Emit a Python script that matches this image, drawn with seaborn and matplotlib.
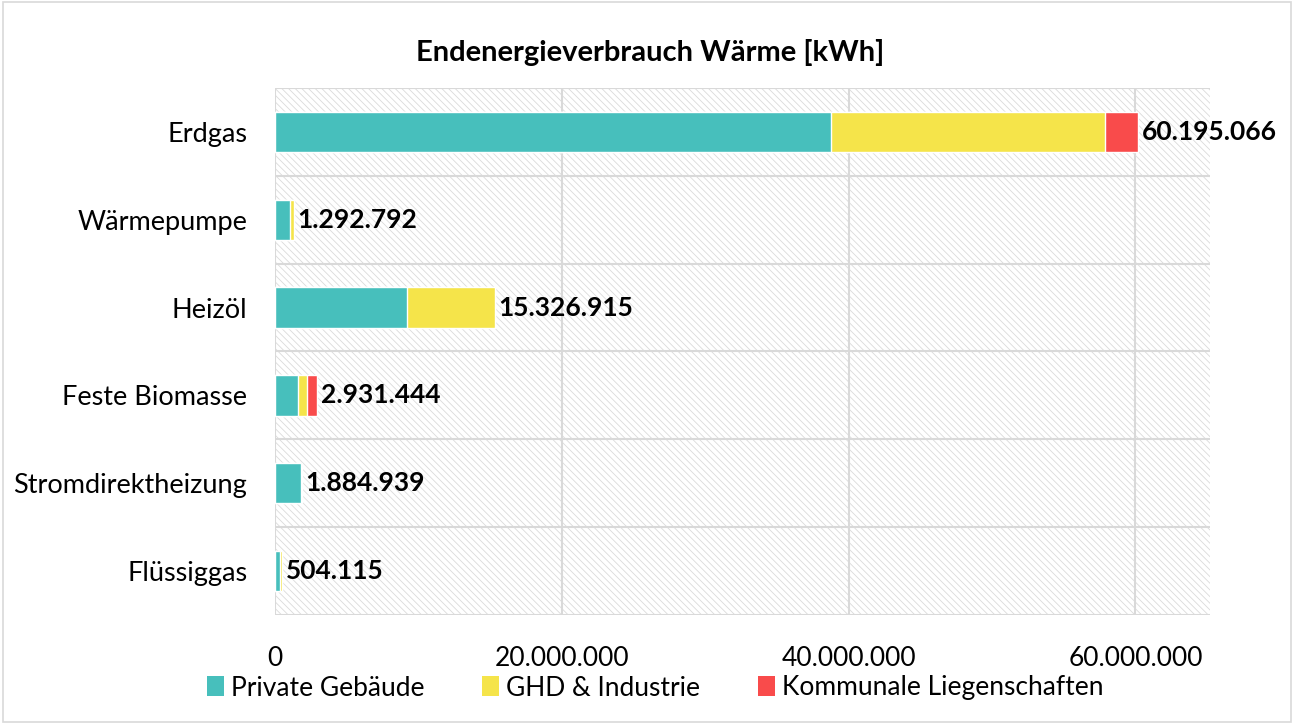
import numpy as np
import pandas as pd
import matplotlib.pyplot as plt
import seaborn as sns
from matplotlib.patches import Rectangle, Patch

sns.set_theme(style="white")
plt.rcParams['font.family'] = ['Lato', 'DejaVu Sans']
plt.rcParams['text.color'] = 'black'
plt.rcParams['xtick.color'] = 'black'
plt.rcParams['ytick.color'] = 'black'
plt.rcParams['hatch.linewidth'] = 0.6

# data (kWh)
categories = ["Erdgas", "Wärmepumpe", "Heizöl", "Feste Biomasse", "Stromdirektheizung", "Flüssiggas"]
private = [38750000, 1040000, 9200000, 1580000, 1800000, 350000]
ghd = [19150000, 252792, 6126915, 620000, 20000, 154115]
kommunal = [2295066, 0, 0, 731444, 64939, 0]
totals = [60195066, 1292792, 15326915, 2931444, 1884939, 504115]

series_names = ["Private Gebäude", "GHD & Industrie", "Kommunale Liegenschaften"]
colors = ["#47bfbc", "#f5e44a", "#f94b4b"]

df = pd.DataFrame({"Kategorie": categories, "p": private, "g": ghd, "k": kommunal})
df["c1"] = df["p"]
df["c2"] = df["p"] + df["g"]
df["c3"] = df["p"] + df["g"] + df["k"]

fig = plt.figure(figsize=(12.94, 7.24), dpi=100)
ax = fig.add_axes([275/1294, 1 - 615/724, (1210-275)/1294, (615-88)/724])

# stacked bars: draw cumulative totals back to front
for col, c in zip(["c3", "c2", "c1"], colors[::-1]):
    sns.barplot(data=df, y="Kategorie", x=col, color=c, orient="h",
                width=0.46, ax=ax, zorder=3, saturation=1)

ax.set_xlim(0, 65200000)
ax.set_ylim(len(categories) - 0.5, -0.5)

# hatched plot background
ax.add_patch(Rectangle((0, 0), 1, 1, transform=ax.transAxes, facecolor="white",
                       edgecolor="#dadada", hatch="\\\\\\\\\\", linewidth=0, zorder=0))

# grid
for x in [20000000, 40000000, 60000000]:
    ax.axvline(x, color="#d9d9d9", linewidth=1.5, zorder=1)
for y in np.arange(-0.5, len(categories), 1.0):
    ax.axhline(y, color="#d9d9d9", linewidth=1.5, zorder=1)
ax.axvline(0, color="#d9d9d9", linewidth=1.5, zorder=1)
for s in ax.spines.values():
    s.set_visible(False)

ax.set_xticks([0, 20000000, 40000000, 60000000])
ax.set_xticklabels(["0", "20.000.000", "40.000.000", "60.000.000"], fontsize=19)
ax.tick_params(axis="y", labelsize=19.5, length=0, pad=20)
ax.tick_params(axis="x", length=0, pad=22)
ax.set_xlabel("")
ax.set_ylabel("")

# value labels
for i, t in enumerate(totals):
    ax.text(t + 250000, i, f"{t:,.0f}".replace(",", "."), va="center", ha="left",
            fontsize=19, fontweight="bold", zorder=4, clip_on=False)

fig.text(650/1294, 1 - 52/724, "Endenergieverbrauch Wärme [kWh]", ha="center", va="center",
         fontsize=21, fontweight="bold")

handles = [Patch(facecolor=c, edgecolor="none") for c in colors]
fig.legend(handles, series_names, loc="center", bbox_to_anchor=(655/1294, 1 - 688/724),
           ncol=3, frameon=False, fontsize=19, handlelength=0.65, handleheight=0.8,
           handletextpad=0.25, columnspacing=2.2)

fig.patches.append(Rectangle((0.002, 0.003), 0.996, 0.994, transform=fig.transFigure,
                             fill=False, edgecolor="#d9d9d9", linewidth=1.2))

fig.savefig("out.png", dpi=100)
